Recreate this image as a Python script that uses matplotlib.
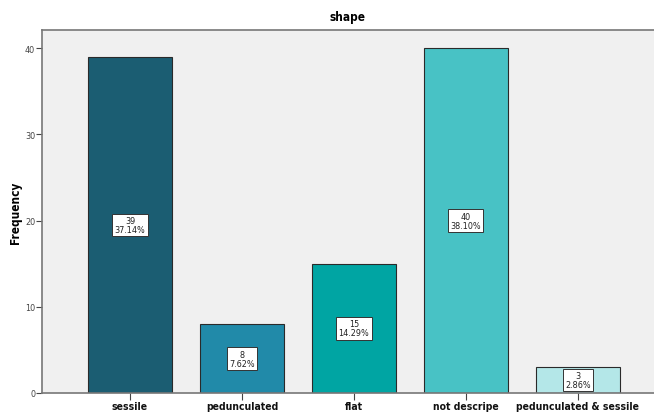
import numpy as np
import matplotlib
matplotlib.use('Agg')
import matplotlib.pyplot as plt
from matplotlib import font_manager

# category counts for "shape"
categories = ['sessile', 'pedunculated', 'flat', 'not descripe', 'pedunculated & sessile']
counts = [39, 8, 15, 40, 3]
percents = ['37.14%', '7.62%', '14.29%', '38.10%', '2.86%']
colors = ['#1b5d72', '#218aa9', '#00a5a3', '#48c2c5', '#b4e7e8']

names = set(f.name for f in font_manager.fontManager.ttflist)
narrow = [n for n in ['Liberation Sans Narrow', 'DejaVu Sans Condensed'] if n in names]
fonts = narrow + ['DejaVu Sans']

fig = plt.figure(figsize=(6.54, 4.14), dpi=100)
ax = fig.add_axes([42/654, 20/414, 1 - 42/654, 363/414])
ax.set_facecolor('#f0f0f0')

x = np.arange(len(categories))
ax.bar(x, counts, width=0.75, color=colors, edgecolor='#2a2a2a', linewidth=0.8, zorder=2)

for xi, c, p in zip(x, counts, percents):
    ax.text(xi, c / 2, f'{c}\n{p}', ha='center', va='center', fontsize=6.5,
            family=fonts, stretch='condensed', linespacing=1.0, color='#222222', zorder=3,
            bbox=dict(boxstyle='square,pad=0.25', fc='white', ec='#333333', lw=0.7))

ax.set_xlim(-0.786, 4.68)
ax.set_ylim(0, 42.1)
ax.set_yticks([0, 10, 20, 30, 40])
ax.set_xticks(x)
ax.set_xticklabels(categories, family=fonts, stretch='condensed', fontsize=7.5, fontweight='bold')
ax.tick_params(axis='y', labelsize=6.5, length=4, width=0.8, colors='#444444', pad=1)
ax.tick_params(axis='x', length=5, width=0.8, colors='#444444', pad=1, labelcolor='#111111')
for lbl in ax.get_yticklabels():
    lbl.set_family(fonts)
    lbl.set_stretch('condensed')

for s in ['left', 'bottom', 'top']:
    ax.spines[s].set_color('#777777')
    ax.spines[s].set_linewidth(1.2)
ax.spines['right'].set_visible(False)

ax.set_ylabel('Frequency', family=fonts, stretch='condensed', fontsize=8.5, fontweight='bold')
ax.yaxis.set_label_coords(-(42 - 22) / 612, 0.5)
ax.set_title('shape', family=fonts, stretch='condensed', fontsize=8.5, fontweight='bold',
             pad=7, x=(347 - 42) / 612)

fig.savefig('out.png', dpi=100)
